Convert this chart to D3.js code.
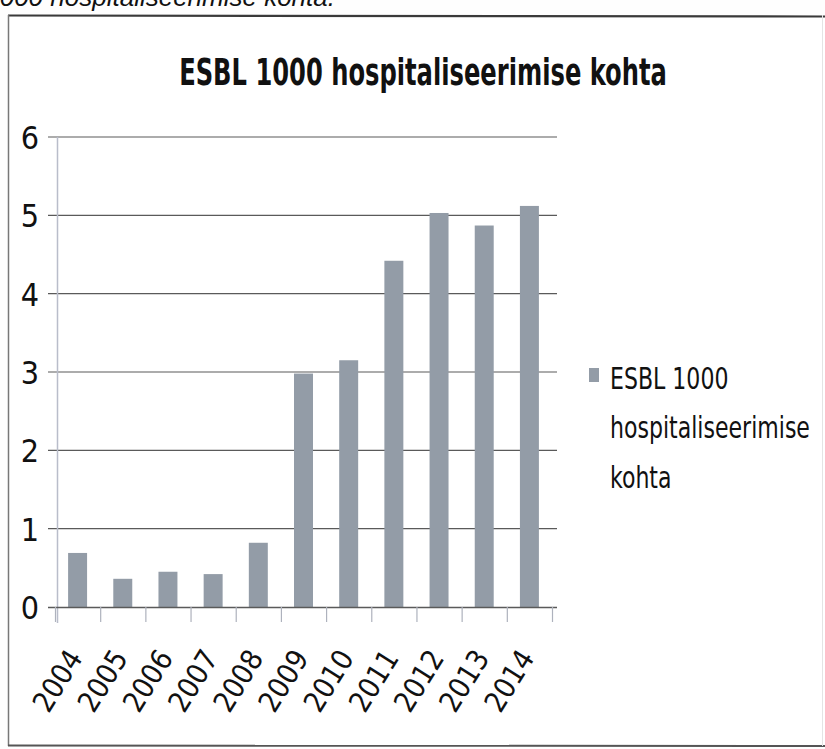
<!DOCTYPE html>
<html>
<head>
<meta charset="utf-8">
<script src="https://cdn.jsdelivr.net/npm/d3@7"></script>
<style>
  html, body { margin: 0; padding: 0; background: #ffffff; }
  svg { display: block; }
  text { font-family: "Liberation Sans Narrow", "DejaVu Sans Condensed", "Open Sans", sans-serif; fill: #111; }
</style>
</head>
<body>
<svg id="chart" width="825" height="749"></svg>
<script>
const title = "ESBL 1000 hospitaliseerimise kohta";
const seriesName = ["ESBL 1000", "hospitaliseerimise", "kohta"];
const years = ["2004","2005","2006","2007","2008","2009","2010","2011","2012","2013","2014"];
const values = [0.69, 0.36, 0.45, 0.42, 0.82, 2.98, 3.15, 4.42, 5.03, 4.87, 5.12];
const yTicks = [0, 1, 2, 3, 4, 5, 6];
const pageText = "1000 hospitaliseerimise kohta.";

const svg = d3.select("#chart");
const W = 825, H = 749;

// horizontally squeeze a text (placed at x,y) so its width equals target
function squeeze(sel, x, y, target) {
  const w = sel.node().getComputedTextLength();
  const s = target / w;
  sel.attr("transform", `translate(${x},${y}) scale(${s.toFixed(4)},1)`);
  return s;
}

svg.append("rect").attr("x", 0).attr("y", 0).attr("width", W).attr("height", H).attr("fill", "#fefefe");

// cut-off page text at the very top (as in the scanned page)
svg.append("text")
  .attr("x", 335).attr("y", 6)
  .attr("text-anchor", "end")
  .attr("font-style", "italic")
  .attr("font-size", 26)
  .style("font-family", "'Liberation Sans', Arial, sans-serif")
  .text(pageText);

// chart frame
svg.append("rect").attr("x", 8).attr("y", 16).attr("width", 817).attr("height", 730)
  .attr("fill", "#ffffff");
svg.append("line").attr("x1", 8).attr("x2", 825).attr("y1", 15.5).attr("y2", 16.5)
  .attr("stroke", "#3a3a3a").attr("stroke-width", 2.2);
svg.append("line").attr("x1", 8.5).attr("x2", 8.5).attr("y1", 15).attr("y2", 746)
  .attr("stroke", "#777").attr("stroke-width", 1.5);
svg.append("line").attr("x1", 8).attr("x2", 825).attr("y1", 745.5).attr("y2", 746)
  .attr("stroke", "#555").attr("stroke-width", 2);
svg.append("line").attr("x1", 822.5).attr("x2", 822.5).attr("y1", 15).attr("y2", 746)
  .attr("stroke", "#e4e4e4").attr("stroke-width", 1);

// title
const t = svg.append("text")
  .attr("text-anchor", "middle")
  .attr("font-weight", "bold")
  .attr("font-size", 38)
  .attr("fill", "#1a1a1a")
  .text(title);
squeeze(t, 423, 85, 488);

// scales
const x = d3.scaleBand().domain(years).range([55, 552]).paddingInner(0.58).paddingOuter(0.29);
const xb = d3.scaleBand().domain(years).range([55, 552]);
const y = d3.scaleLinear().domain([0, 6]).range([607, 137]);

// gridlines
svg.append("g").selectAll("line").data(yTicks.filter(d => d > 0)).join("line")
  .attr("x1", 48).attr("x2", 557)
  .attr("y1", d => y(d)).attr("y2", d => y(d))
  .attr("stroke", "#5a5a5a").attr("stroke-width", 1.2);

// y axis line
svg.append("line").attr("x1", 57.5).attr("x2", 57.5).attr("y1", y(6)).attr("y2", y(0) + 16)
  .attr("stroke", "#b9bdca").attr("stroke-width", 1.5);

// y tick labels
const yAxis = d3.axisLeft(y).tickValues(yTicks).tickSize(0).tickPadding(0).tickFormat(d3.format("d"));
const gy = svg.append("g").attr("transform", "translate(39,0)").call(yAxis);
gy.select(".domain").remove();
gy.selectAll("text")
  .attr("font-size", 32)
  .attr("fill", "#1a1a1a")
  .style("font-family", "'Liberation Sans Narrow', 'DejaVu Sans Condensed', sans-serif")
  .attr("dy", "0.36em");

// bars
svg.append("g").selectAll("rect").data(values).join("rect")
  .attr("x", (d, i) => x(years[i]))
  .attr("width", x.bandwidth())
  .attr("y", d => y(d))
  .attr("height", d => y(0) - y(d))
  .attr("fill", "#939ca7");

// x axis baseline + ticks
const xAxis = d3.axisBottom(xb).tickSize(0).tickFormat("");
const gx = svg.append("g").attr("transform", `translate(0,${y(0)})`).call(xAxis);
gx.select(".domain").attr("stroke", "#5a5a5a").attr("stroke-width", 1.3).attr("d", "M48,0.5H557");
const bounds = years.map(d => xb(d)).concat([552]);
svg.append("g").selectAll("line").data(bounds).join("line")
  .attr("x1", d => d + 0.5).attr("x2", d => d + 0.5)
  .attr("y1", y(0)).attr("y2", y(0) + 15)
  .attr("stroke", "#aeb2bd").attr("stroke-width", 1.2);

// x labels (rotated)
svg.append("g").selectAll("text").data(years).join("text")
  .attr("transform", d => `translate(${xb(d) + xb.bandwidth() / 2 + 6},${y(0) + 51}) rotate(-58)`)
  .attr("text-anchor", "end")
  .attr("font-size", 29)
  .attr("fill", "#1a1a1a")
  .text(d => d);

// legend
svg.append("rect").attr("x", 589).attr("y", 368).attr("width", 10).attr("height", 14).attr("fill", "#939ca7");
const legendY = [389, 438, 488];
const lg = svg.append("g");
const lt = lg.selectAll("text").data(seriesName).join("text")
  .attr("font-size", 31)
  .attr("fill", "#1a1a1a")
  .text(d => d);
const longest = lt.filter((d, i) => i === 1).node().getComputedTextLength();
const ls = 200 / longest;
lt.attr("transform", (d, i) => `translate(610,${legendY[i]}) scale(${ls.toFixed(4)},1)`);
</script>
</body>
</html>
